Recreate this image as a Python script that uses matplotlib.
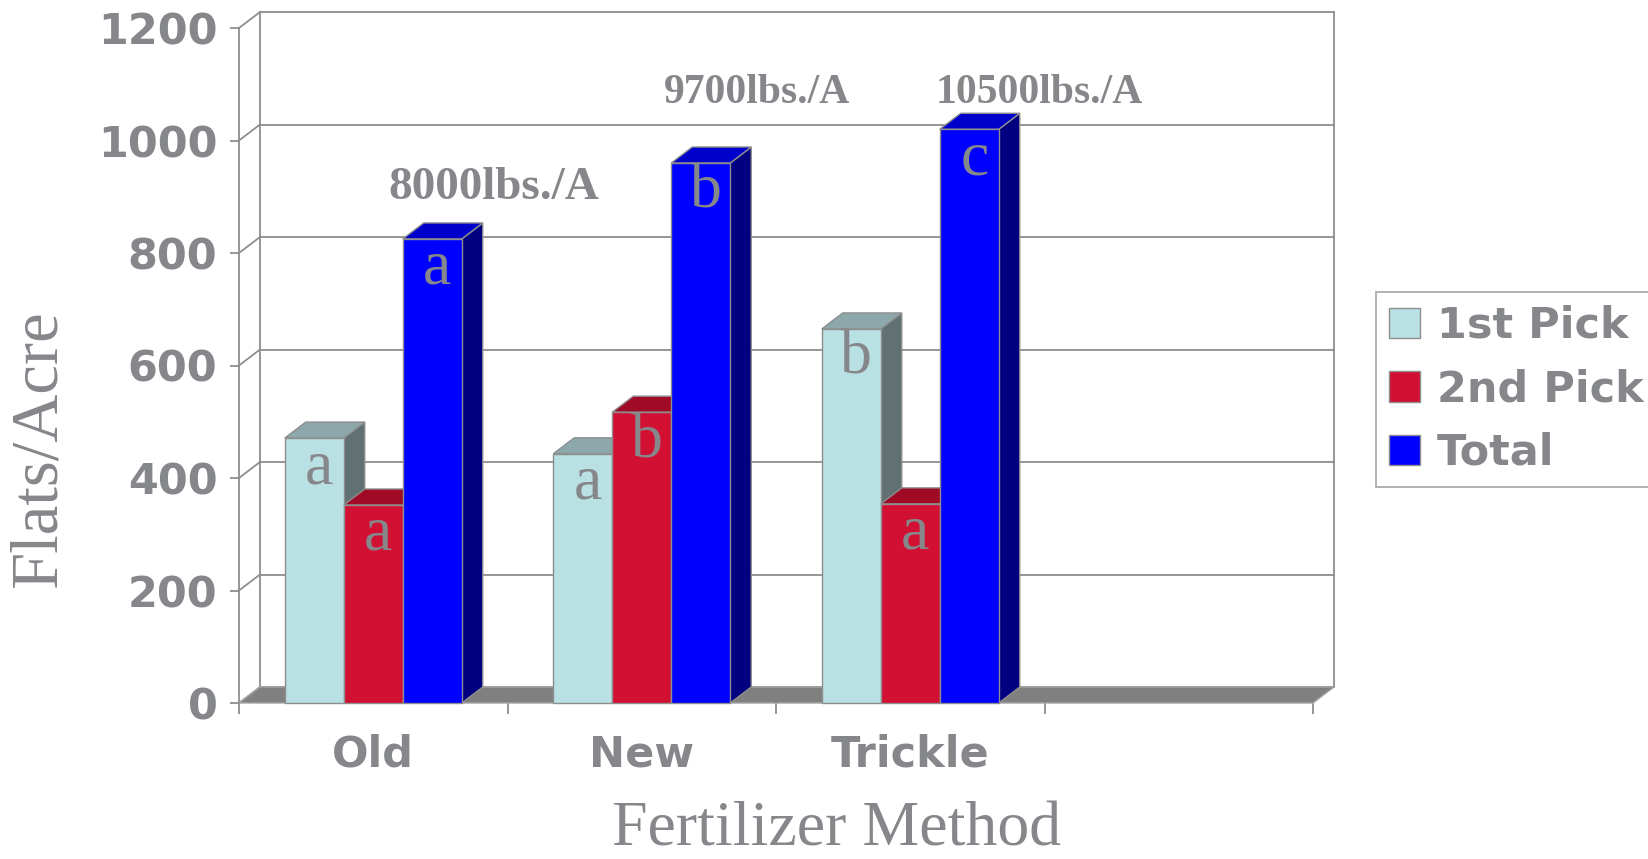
import matplotlib
matplotlib.use("Agg")
import matplotlib.pyplot as plt
from matplotlib.patches import Polygon, Rectangle, Patch

# ---------------- data ----------------
categories = ["Old", "New", "Trickle", ""]
series_names = ["1st Pick", "2nd Pick", "Total"]
first_pick = [471, 443, 665]
second_pick = [352, 517, 354]
total = [825, 960, 1020]
first_letters = ["a", "a", "b"]
second_letters = ["a", "b", "a"]
total_letters = ["a", "b", "c"]
yield_labels = ["8000lbs./A", "9700lbs./A", "10500lbs./A"]
yield_label_pos = [(0.95, 896), (1.93, 1067), (2.98, 1067)]
yield_label_size = [34, 30, 30]
yticks = [0, 200, 400, 600, 800, 1000, 1200]

# ---------------- style ----------------
TXT = "#86878b"
LINE = "#8e8e8f"
front_cols = ["#b9e0e3", "#d21034", "#0000ff"]
top_cols = ["#8ca8aa", "#a00a24", "#0000cc"]
side_cols = ["#607073", "#7a0a1c", "#000080"]
SERIF = "Liberation Serif"
SANS = "DejaVu Sans"

W, H = 1648, 859
fig = plt.figure(figsize=(W / 100, H / 100), dpi=100)
ax_l, ax_r, ax_b, ax_t = 239, 1313, 703, 28
ax = fig.add_axes([ax_l / W, 1 - ax_b / H, (ax_r - ax_l) / W, (ax_b - ax_t) / H])
ncat = len(categories)
ymax = yticks[-1]
ax.set_xlim(0, ncat)
ax.set_ylim(0, ymax)

# depth offset (pixels -> data)
dx = 21 / (ax_r - ax_l) * ncat
dy = 16 / (ax_b - ax_t) * ymax

# back wall gridlines, side-wall diagonals, back edges
for v in yticks:
    ax.plot([dx, ncat + dx], [v + dy, v + dy], color=LINE, lw=1.3, clip_on=False, zorder=1)
    ax.plot([0, dx], [v, v + dy], color=LINE, lw=1.3, clip_on=False, zorder=1)
for xe in (dx, ncat + dx):
    ax.plot([xe, xe], [dy, ymax + dy], color=LINE, lw=1.3, clip_on=False, zorder=1)

# floor
ax.add_patch(Polygon([(0, 0), (ncat, 0), (ncat + dx, dy), (dx, dy)], closed=True,
                     fc="#808080", ec="#a5a5a5", lw=1.0, clip_on=False, zorder=2))

# bars
bw = 59 / (ax_r - ax_l) * ncat
series = [first_pick, second_pick, total]
letters = [first_letters, second_letters, total_letters]
z = 3
for i in range(len(total)):
    for k, vals in enumerate(series):
        v = vals[i]
        x0 = i + 0.5 - 1.5 * bw + k * bw
        x1 = x0 + bw
        side = Polygon([(x1, 0), (x1 + dx, dy), (x1 + dx, v + dy), (x1, v)], closed=True,
                       fc=side_cols[k], ec=LINE, lw=1.0, clip_on=False, zorder=z)
        top = Polygon([(x0, v), (x1, v), (x1 + dx, v + dy), (x0 + dx, v + dy)], closed=True,
                      fc=top_cols[k], ec=LINE, lw=1.0, clip_on=False, zorder=z)
        front = Rectangle((x0, 0), bw, v, fc=front_cols[k], ec=LINE, lw=1.0,
                          clip_on=False, zorder=z + 0.5)
        ax.add_patch(side)
        ax.add_patch(top)
        ax.add_patch(front)
        z += 1
        ax.annotate(letters[k][i], xy=(x0 + bw / 2, v), xytext=(5, -45),
                    textcoords="offset pixels", ha="center", va="baseline",
                    fontsize=46, family=SERIF, color=TXT, zorder=50)

# yield annotations
for lab, (px, py), fs in zip(yield_labels, yield_label_pos, yield_label_size):
    ax.text(px, py, lab, ha="center", va="baseline", fontsize=fs, family=SERIF,
            fontweight="bold", color=TXT, zorder=50)

# spines and ticks
for s in ["top", "right", "bottom"]:
    ax.spines[s].set_visible(False)
ax.spines["left"].set_color(LINE)
ax.spines["left"].set_linewidth(1.3)
ax.spines["left"].set_zorder(2.5)
ax.set_facecolor("none")

ax.set_yticks(yticks)
ax.set_yticklabels([str(t) for t in yticks])
ax.tick_params(axis="y", direction="out", length=6.5, width=1.3, color=LINE, pad=9,
               labelsize=31, labelcolor=TXT)
for lab in ax.get_yticklabels():
    lab.set_fontweight("bold")
    lab.set_family(SANS)

ax.set_xticks(range(ncat + 1))
ax.set_xticklabels([""] * (ncat + 1))
ax.set_xticks([i + 0.5 for i in range(ncat)], minor=True)
ax.set_xticklabels(categories, minor=True)
ax.tick_params(axis="x", which="major", direction="out", length=8, width=1.3, color=LINE)
ax.tick_params(axis="x", which="minor", length=0, pad=22, labelsize=31, labelcolor=TXT)
for lab in ax.get_xticklabels(minor=True):
    lab.set_fontweight("bold")
    lab.set_family(SANS)

# axis titles
ax.set_xlabel("Fertilizer Method", fontsize=46, family=SERIF, color=TXT)
ax.xaxis.set_label_coords((837 - ax_l) / (ax_r - ax_l), (ax_b - 845) / (ax_b - ax_t))
ax.xaxis.label.set_va("baseline")
ax.set_ylabel("Flats/Acre", fontsize=48, family=SERIF, color=TXT)
ax.yaxis.set_label_coords((39 - ax_l) / (ax_r - ax_l), (ax_b - 449) / (ax_b - ax_t))
ax.yaxis.label.set_va("center")

# legend
handles = [Patch(fc=c, ec=LINE, lw=1.0) for c in front_cols]
leg = fig.legend(handles, series_names, loc="upper left",
                 bbox_to_anchor=(1376 / W, 1 - 292 / H), bbox_transform=fig.transFigure,
                 frameon=True, fancybox=False, borderaxespad=0, borderpad=0.3,
                 handlelength=0.72, handleheight=0.72, handletextpad=0.4,
                 labelspacing=0.5, prop={"family": SANS, "weight": "bold", "size": 31})
leg.get_frame().set_edgecolor(LINE)
leg.get_frame().set_linewidth(1.2)
for t in leg.get_texts():
    t.set_color(TXT)

fig.savefig("out.png", dpi=100)
